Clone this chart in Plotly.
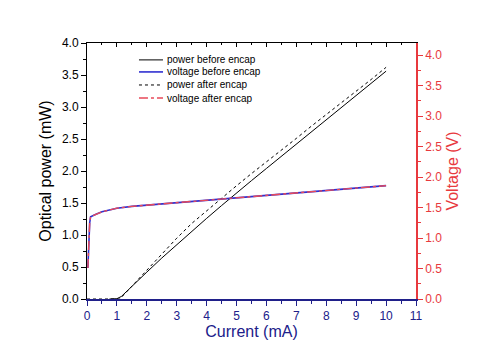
import plotly.graph_objects as go

# ---- data ----
current_pb = [0.75, 1.0, 1.15, 1.5, 2.0, 2.5, 3.0, 3.5, 4.0, 4.5, 5.0, 5.5, 6.0,
              6.5, 7.0, 7.5, 8.0, 8.5, 9.0, 9.5, 10.0]
power_before = [0.0, 0.005, 0.04, 0.2, 0.42, 0.64, 0.85, 1.06, 1.26, 1.46, 1.66,
                1.85, 2.04, 2.23, 2.42, 2.61, 2.80, 2.99, 3.18, 3.37, 3.56]

current_pa = [0.0, 0.2, 0.45, 0.8, 1.1, 1.5, 2.0, 2.5, 3.0, 3.5, 4.0, 4.5, 5.0, 5.5, 6.0,
              6.5, 7.0, 7.5, 8.0, 8.5, 9.0, 9.5, 10.0]
power_after = [0.0, 0.0, 0.0, 0.0, 0.0, 0.2, 0.45, 0.70, 0.95, 1.18, 1.38, 1.58, 1.77,
               1.96, 2.14, 2.33, 2.51, 2.70, 2.88, 3.06, 3.25, 3.43, 3.62]

current_v = [0.03, 0.06, 0.09, 0.12, 0.2, 0.3, 0.5, 0.75, 1.0, 1.5, 2.0, 2.5, 3.0, 3.5,
             4.0, 4.5, 5.0, 5.5, 6.0, 6.5, 7.0, 7.5, 8.0, 8.5, 9.0, 9.5, 10.0]
voltage_before = [0.51, 0.95, 1.25, 1.35, 1.37, 1.39, 1.43, 1.46, 1.49, 1.52, 1.54, 1.565,
                  1.585, 1.61, 1.63, 1.65, 1.67, 1.69, 1.71, 1.73, 1.75, 1.77, 1.79, 1.81,
                  1.83, 1.845, 1.86]
voltage_after = [0.51, 0.95, 1.25, 1.35, 1.37, 1.39, 1.43, 1.46, 1.49, 1.52, 1.54, 1.565,
                 1.585, 1.61, 1.63, 1.65, 1.67, 1.69, 1.71, 1.73, 1.75, 1.77, 1.79, 1.81,
                 1.83, 1.845, 1.86]

series_names = ["power before encap", "voltage before encap",
                "power after encap", "voltage after encap"]

x_ticks = list(range(0, 12))
left_ticks = [0.0, 0.5, 1.0, 1.5, 2.0, 2.5, 3.0, 3.5, 4.0]
right_ticks = [0.0, 0.5, 1.0, 1.5, 2.0, 2.5, 3.0, 3.5, 4.0]

NAVY = "#20208a"
RED = "#e8393e"
FONT = "Liberation Sans, Arial, sans-serif"

styles = [dict(color="black", width=1),
          dict(color="#3030d0", width=1.6),
          dict(color="black", width=1, dash="dot"),
          dict(color="#e84a5a", width=1.4, dash="dashdot")]

fig = go.Figure()
fig.add_trace(go.Scatter(x=current_pb, y=power_before, mode="lines", name=series_names[0],
                         line=styles[0], yaxis="y"))
fig.add_trace(go.Scatter(x=current_v, y=voltage_before, mode="lines", name=series_names[1],
                         line=styles[1], yaxis="y2"))
fig.add_trace(go.Scatter(x=current_pa, y=power_after, mode="lines", name=series_names[2],
                         line=styles[2], yaxis="y"))
fig.add_trace(go.Scatter(x=current_v, y=voltage_after, mode="lines", name=series_names[3],
                         line=styles[3], yaxis="y2"))
# helper trace to show the top (mirror) axis with inward ticks
fig.add_trace(go.Scatter(x=[None], y=[None], xaxis="x2", yaxis="y", showlegend=False,
                         hoverinfo="skip"))

# compact legend (line sample + text) in the upper left of the plot area
shapes, annotations = [], []
leg_y = [0.934, 0.887, 0.836, 0.785]
for name, st, yy in zip(series_names, styles, leg_y):
    shapes.append(dict(type="line", xref="paper", yref="paper", x0=0.158, x1=0.231,
                       y0=yy, y1=yy, line=dict(color=st["color"], width=st["width"],
                                               dash=st.get("dash", "solid"))))
    annotations.append(dict(xref="paper", yref="paper", x=0.237, y=yy, text=name,
                            showarrow=False, xanchor="left", yanchor="middle",
                            font=dict(size=10, color="black", family=FONT)))

fig.update_layout(
    width=484, height=360,
    margin=dict(l=79, r=76, t=35, b=69, autoexpand=False),
    paper_bgcolor="white", plot_bgcolor="white",
    font=dict(family=FONT, size=12, color="black"),
    showlegend=False,
    shapes=shapes, annotations=annotations,
    xaxis=dict(range=[0, 11], tickvals=x_ticks, ticktext=[str(v) for v in x_ticks],
               showgrid=False, zeroline=False, showline=True, linecolor=NAVY, linewidth=1.5,
               ticks="outside", tickcolor=NAVY, ticklen=5, tickwidth=1.2,
               minor=dict(ticks="outside", dtick=0.5, ticklen=3, tickcolor=NAVY),
               tickfont=dict(color=NAVY, size=12),
               title=dict(text="Current (mA)", font=dict(color=NAVY, size=16), standoff=4)),
    xaxis2=dict(range=[0, 11], overlaying="x", side="top", showgrid=False, zeroline=False,
                showline=True, linecolor="black", linewidth=1, ticks="inside", ticklen=4,
                tickvals=x_ticks, showticklabels=False, tickcolor="black",
                minor=dict(ticks="inside", dtick=0.5, ticklen=2, tickcolor="black")),
    yaxis=dict(range=[0, 4.0], tickvals=left_ticks, ticktext=[f"{v:.1f}" for v in left_ticks],
               showgrid=False, zeroline=False, showline=True, linecolor="black", linewidth=1,
               ticks="outside", ticklen=5, tickcolor="black",
               minor=dict(ticks="outside", dtick=0.25, ticklen=3, tickcolor="black"),
               tickfont=dict(color="black", size=12),
               title=dict(text="Optical power (mW)", font=dict(color="black", size=16), standoff=6)),
    yaxis2=dict(range=[0, 4.2], overlaying="y", side="right", tickvals=right_ticks,
                ticktext=[f"{v:.1f}" for v in right_ticks],
                showgrid=False, zeroline=False, showline=True, linecolor=RED, linewidth=1.5,
                ticks="outside", ticklen=5, tickcolor=RED,
                minor=dict(ticks="outside", dtick=0.25, ticklen=3, tickcolor=RED),
                tickfont=dict(color=RED, size=12),
                title=dict(text="Voltage (V)", font=dict(color=RED, size=16), standoff=6)),
)

fig.write_html("out.html")
